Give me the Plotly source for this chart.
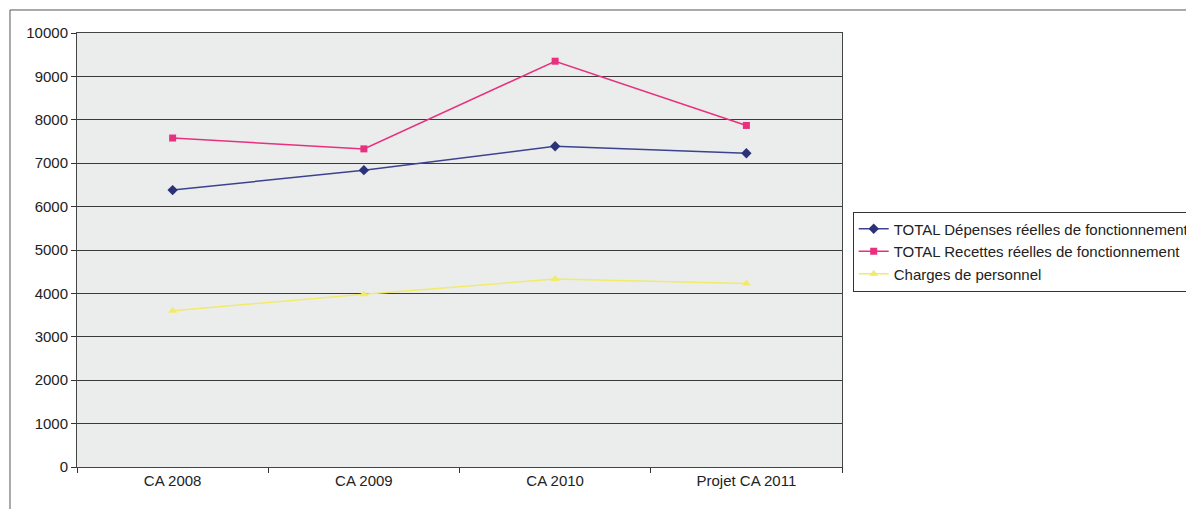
import plotly.graph_objects as go

categories = ["CA 2008", "CA 2009", "CA 2010", "Projet CA 2011"]
depenses = [6380, 6840, 7390, 7230]
recettes = [7580, 7330, 9350, 7870]
charges = [3600, 3980, 4330, 4230]
y_ticks = [0, 1000, 2000, 3000, 4000, 5000, 6000, 7000, 8000, 9000, 10000]
y_labels = [str(v) for v in y_ticks]

fig = go.Figure()
fig.add_trace(go.Scatter(x=categories, y=depenses, mode="lines+markers",
                         name="TOTAL Dépenses réelles de fonctionnement",
                         line=dict(color="#3c4290", width=1.5),
                         marker=dict(symbol="diamond", size=8, color="#2c3278")))
fig.add_trace(go.Scatter(x=categories, y=recettes, mode="lines+markers",
                         name="TOTAL Recettes réelles de fonctionnement",
                         line=dict(color="#e8307f", width=1.5),
                         marker=dict(symbol="square", size=7, color="#e8307f")))
fig.add_trace(go.Scatter(x=categories, y=charges, mode="lines+markers",
                         name="Charges de personnel",
                         line=dict(color="#f2ea6a", width=1.5),
                         marker=dict(symbol="triangle-up", size=8, color="#f2ea6a")))

fig.update_layout(
    width=1194, height=509,
    margin=dict(l=69, r=360, t=25, b=50, autoexpand=False),
    paper_bgcolor="white",
    plot_bgcolor="#ebeded",
    font=dict(family="Liberation Sans, Arial, sans-serif", size=15, color="#222"),
    showlegend=True,
    legend=dict(x=1.014, y=0.4965, xanchor="left", yanchor="middle",
                bordercolor="#333", borderwidth=1, bgcolor="white",
                font=dict(size=15, color="#222"), tracegroupgap=0,
                itemwidth=30),
    xaxis=dict(type="category", range=[-0.5, 3.5], tickson="boundaries",
               ticks="outside", ticklen=5, automargin=False,
               tickcolor="#333", showgrid=False, showline=True, linecolor="#444",
               linewidth=1, mirror=True, tickfont=dict(size=15)),
    yaxis=dict(range=[0, 10000], tickvals=y_ticks, ticktext=y_labels,
               ticks="outside", ticklen=5, automargin=False,
               tickcolor="#333", showgrid=True, gridcolor="#3a3a3a", gridwidth=1,
               showline=True, linecolor="#444", linewidth=1, mirror=True,
               zeroline=False, tickfont=dict(size=15)),
    shapes=[dict(type="rect", xref="paper", yref="paper",
                 x0=-0.0876, x1=1.6, y0=-0.3, y1=1.053,
                 line=dict(color="#555", width=1))],
)

fig.write_html("out.html")
